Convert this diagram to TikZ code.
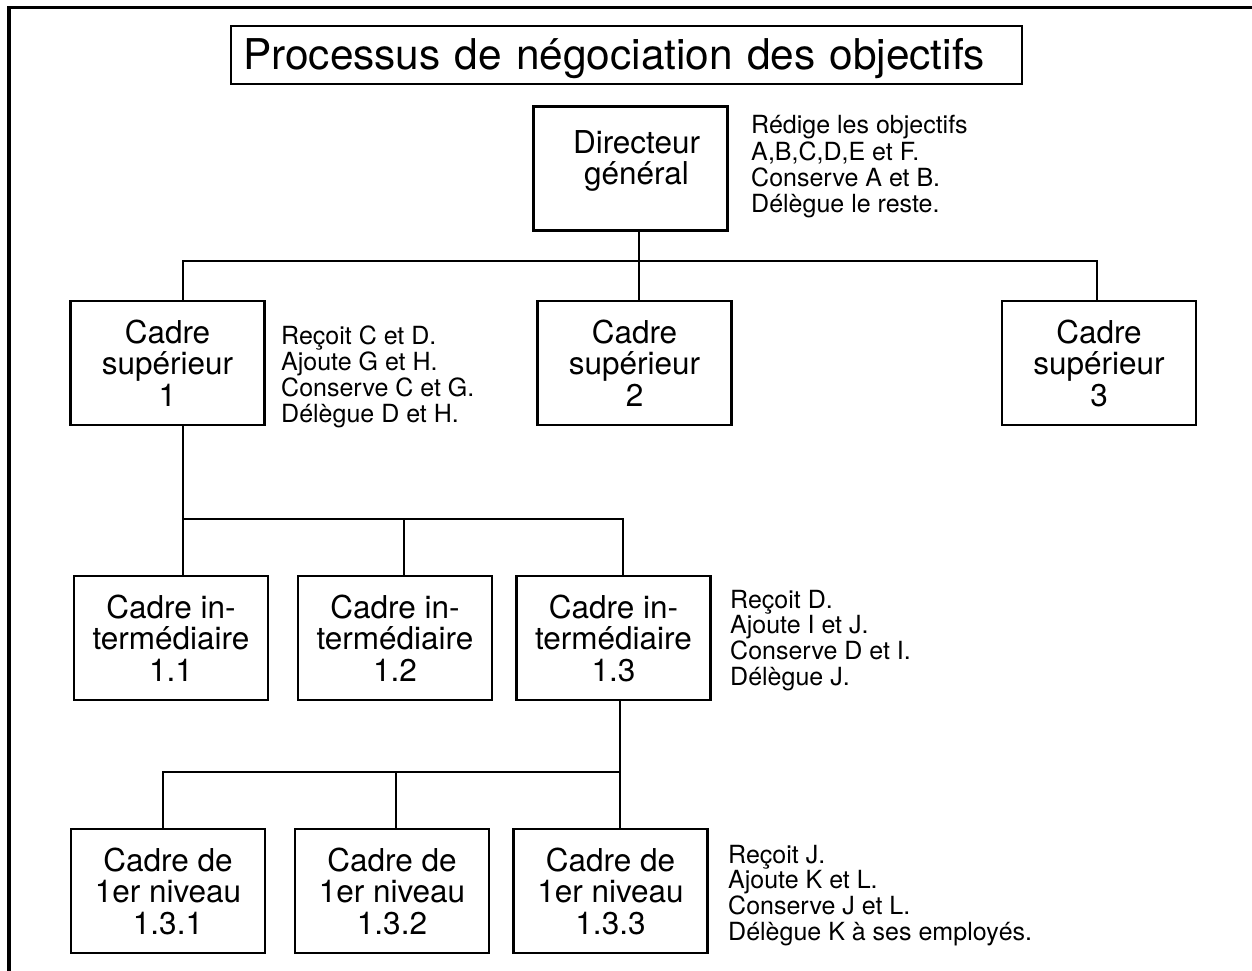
\documentclass[tikz,border=0pt]{standalone}
\usepackage{fontspec}
\setmainfont{TeX Gyre Heros}
\begin{document}
\begin{tikzpicture}[x=1pt,y=-1pt,
  box/.style={draw, line width=2.2pt, minimum width=194pt, minimum height=124pt,
    inner sep=0pt, align=center, font=\fontsize{31.5pt}{31.5pt}\selectfont},
  note/.style={anchor=base west, inner sep=0pt, font=\fontsize{25pt}{25pt}\selectfont},
  wire/.style={line width=2.2pt},
  frame/.style={line width=3.3pt},
  titlebox/.style={draw, line width=2pt, minimum width=791pt, minimum height=58pt,
    inner xsep=12pt, inner ysep=0pt, text width=767pt, align=left,
    text height=35pt, text depth=5pt, font=\fontsize{42.4pt}{42.4pt}\selectfont}]
\useasboundingbox (0,0) rectangle (1252,971);
% outer frame (only left and top edges visible)
\draw[frame] (9,971) -- (9,7.5) -- (1252,7.5);

% title
\node[titlebox] (title) at (626.5,55) {Processus de négociation des objectifs};

% boxes
\node[box] (dg) at (630.5,168.5) {\hspace*{12pt}Directeur\\\hspace*{12pt}général\rule[-22pt]{0pt}{22pt}};
\node[box] (cs1) at (167.5,363) {Cadre\\supérieur\\1};
\node[box] (cs2) at (634.5,363) {Cadre\\supérieur\\2};
\node[box] (cs3) at (1099,363) {Cadre\\supérieur\\3};
\node[box] (ci1) at (171,638) {Cadre in-\\termédiaire\\1.1};
\node[box] (ci2) at (395,638) {Cadre in-\\termédiaire\\1.2};
\node[box] (ci3) at (613.5,638) {Cadre in-\\termédiaire\\1.3};
\node[box] (c1) at (168,891) {Cadre de\\1er niveau\\1.3.1};
\node[box] (c2) at (392,891) {Cadre de\\1er niveau\\1.3.2};
\node[box] (c3) at (610.5,891) {Cadre de\\1er niveau\\1.3.3};

% notes
\node[note] (ndg) at (751,134) {\begin{tabular}[t]{@{}l@{}}Rédige les objectifs\\A,B,C,D,E et F.\\Conserve A et B.\\Délègue le reste.\end{tabular}};
\node[note] (ncs1) at (281,344) {\begin{tabular}[t]{@{}l@{}}Reçoit C et D.\\Ajoute G et H.\\Conserve C et G.\\Délègue D et H.\end{tabular}};
\node[note] (nci3) at (730,608) {\begin{tabular}[t]{@{}l@{}}Reçoit D.\\Ajoute I et J.\\Conserve D et I.\\Délègue J.\end{tabular}};
\node[note] (nc3) at (728,863) {\begin{tabular}[t]{@{}l@{}}Reçoit J.\\Ajoute K et L.\\Conserve J et L.\\Délègue K à ses employés.\end{tabular}};

% bus coordinates
\coordinate (b1l) at (183,261);
\coordinate (b1m) at (639,261);
\coordinate (b1r) at (1097,261);
\coordinate (b2l) at (183,519);
\coordinate (b2m) at (404,519);
\coordinate (b2r) at (623,519);
\coordinate (b3l) at (163,772);
\coordinate (b3m) at (396,772);
\coordinate (b3r) at (620,772);

% level 1 -> 2
\draw[wire] (dg.south -| b1m) -- (b1m);
\draw[wire] (cs1.north -| b1l) -- (b1l) -- (b1r) -- (cs3.north -| b1r);
\draw[wire] (b1m) -- (cs2.north -| b1m);
% level 2 -> 3
\draw[wire] (cs1.south -| b2l) -- (ci1.north -| b2l);
\draw[wire] (b2l) -- (b2r) -- (ci3.north -| b2r);
\draw[wire] (b2m) -- (ci2.north -| b2m);
% level 3 -> 4
\draw[wire] (ci3.south -| b3r) -- (c3.north -| b3r);
\draw[wire] (c1.north -| b3l) -- (b3l) -- (b3r);
\draw[wire] (b3m) -- (c2.north -| b3m);
\end{tikzpicture}
\end{document}
